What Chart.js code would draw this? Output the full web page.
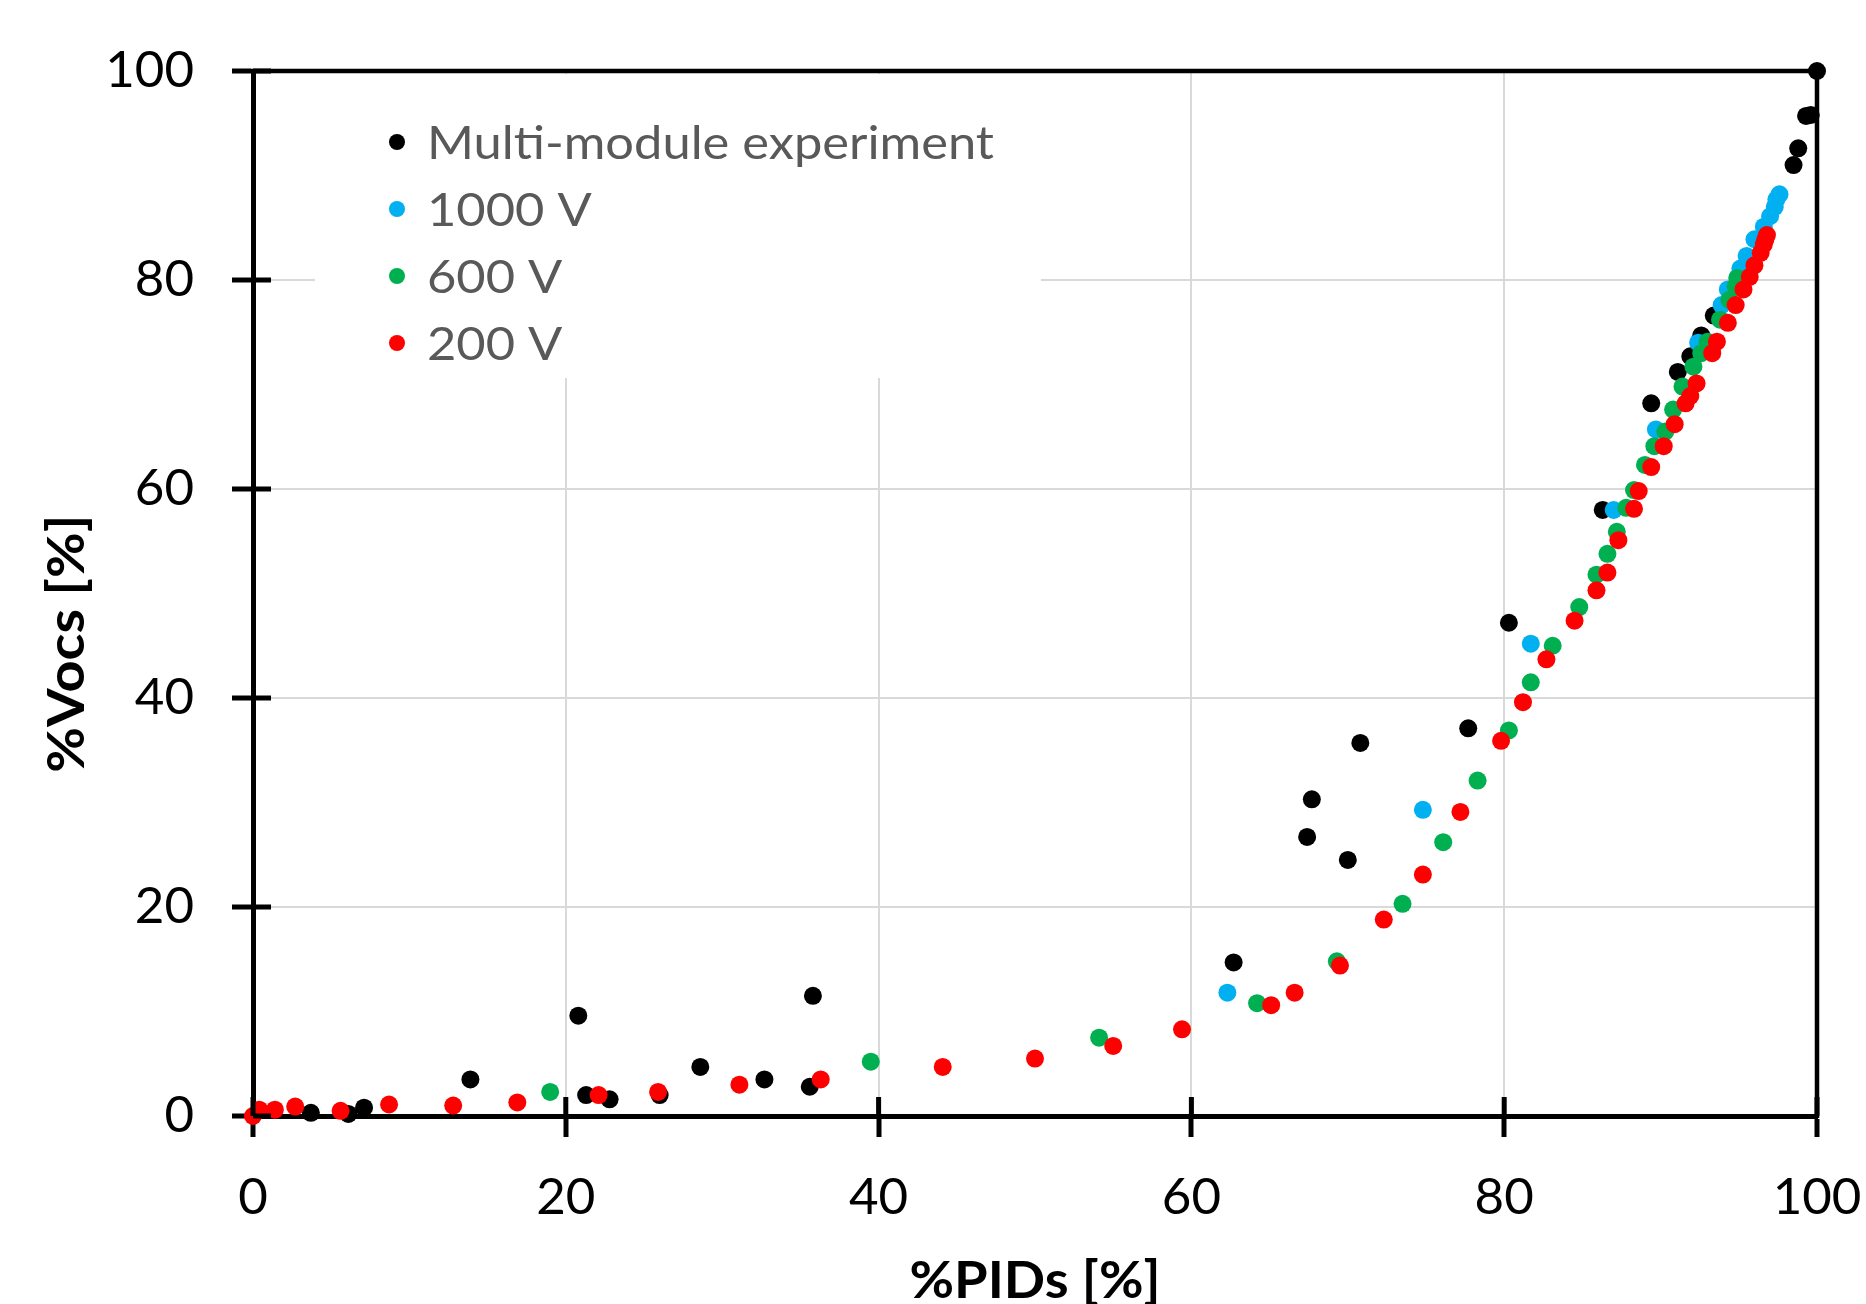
<!DOCTYPE html>
<html>
<head>
<meta charset="utf-8">
<script src="https://cdn.jsdelivr.net/npm/chart.js@4.4.1/dist/chart.umd.min.js"></script>
<style>
html,body{margin:0;padding:0;background:#fff;}
#wrap{width:1866px;height:1304px;position:relative;}
</style>
</head>
<body>
<div id="wrap"><canvas id="c" width="1866" height="1304"></canvas></div>
<script>
// ---- Data ----
const seriesLabels = ['Multi-module experiment', '1000 V', '600 V', '200 V'];
const seriesColors = ['#000000', '#00B0F0', '#00B050', '#FF0000'];

const multiX = [3.7, 6.1, 7.1, 13.9, 20.8, 21.3, 22.8, 26.0, 28.6, 32.7, 35.6, 35.8, 62.7, 67.4, 67.7, 70.0, 70.8, 77.7, 80.3, 86.3, 89.4, 91.1, 91.9, 92.6, 93.4, 98.5, 98.8, 99.3, 99.6, 100];
const multiY = [0.3, 0.2, 0.8, 3.5, 9.6, 2.0, 1.6, 2.0, 4.7, 3.5, 2.8, 11.5, 14.7, 26.7, 30.3, 24.5, 35.7, 37.1, 47.2, 58.0, 68.2, 71.2, 72.7, 74.7, 76.6, 91.0, 92.6, 95.7, 95.8, 100];

const v1000X = [62.3, 74.8, 81.7, 87.0, 89.7, 92.4, 93.9, 94.3, 95.1, 95.5, 96.0, 96.6, 97.0, 97.3, 97.4, 97.6];
const v1000Y = [11.8, 29.3, 45.2, 58.0, 65.7, 74.0, 77.6, 79.1, 81.1, 82.3, 83.9, 85.1, 86.1, 87.0, 87.7, 88.2];

const v600X = [19.0, 39.5, 54.1, 64.2, 69.3, 73.5, 76.1, 78.3, 80.3, 81.7, 83.1, 84.8, 85.9, 86.6, 87.2, 87.8, 88.3, 89.0, 89.6, 90.3, 90.8, 91.4, 92.1, 92.6, 93.0, 93.8, 94.4, 94.8, 94.9];
const v600Y = [2.3, 5.2, 7.5, 10.8, 14.8, 20.3, 26.2, 32.1, 36.9, 41.5, 45.0, 48.7, 51.8, 53.8, 55.9, 58.2, 59.9, 62.3, 64.1, 65.5, 67.6, 69.8, 71.7, 73.0, 74.1, 76.2, 78.1, 79.4, 80.2];

const v200X = [0, 0.4, 1.4, 2.7, 5.6, 8.7, 12.8, 16.9, 22.1, 25.9, 31.1, 36.3, 44.1, 50.0, 55.0, 59.4, 65.1, 66.6, 69.5, 72.3, 74.8, 77.2, 79.8, 81.2, 82.7, 84.5, 85.9, 86.6, 87.3, 88.3, 88.6, 89.4, 90.2, 90.9, 91.6, 91.9, 92.3, 93.3, 93.6, 94.3, 94.8, 95.3, 95.7, 96.0, 96.4, 96.6, 96.7, 96.8];
const v200Y = [0, 0.6, 0.6, 0.9, 0.5, 1.1, 1.0, 1.3, 2.0, 2.3, 3.0, 3.5, 4.7, 5.5, 6.7, 8.3, 10.6, 11.8, 14.4, 18.8, 23.1, 29.1, 35.9, 39.6, 43.7, 47.4, 50.3, 52.0, 55.1, 58.1, 59.8, 62.1, 64.1, 66.2, 68.2, 68.9, 70.1, 73.0, 74.1, 75.9, 77.6, 79.1, 80.3, 81.4, 82.6, 83.4, 83.9, 84.3];

const xTitle = '%PIDs [%]';
const yTitle = '%Vocs [%]';
const axisMin = 0, axisMax = 100, axisStep = 20;

// ---- Build datasets ----
function pts(xs, ys) { return xs.map((x, i) => ({x: x, y: ys[i]})); }
const seriesX = [multiX, v1000X, v600X, v200X];
const seriesY = [multiY, v1000Y, v600Y, v200Y];
const drawOrder = [3, 2, 1, 0]; // red on top, black at the bottom

const datasets = seriesLabels.map((lab, i) => ({
  label: lab,
  data: pts(seriesX[i], seriesY[i]),
  backgroundColor: seriesColors[i],
  borderColor: seriesColors[i],
  borderWidth: 0,
  pointRadius: 9,
  pointHoverRadius: 9,
  showLine: false,
  clip: false,
  order: drawOrder[i]
}));

const FONT = 'Lato';

// draw text stretched horizontally to a target width (reference text is slightly wide)
function stretchText(ctx, text, x, y, width) {
  const w = ctx.measureText(text).width;
  const k = width / w;
  ctx.save();
  ctx.translate(x, y);
  ctx.scale(k, 1);
  ctx.fillText(text, 0, 0);
  ctx.restore();
}

const decorPlugin = {
  id: 'decor',
  afterDraw(chart) {
    const ctx = chart.ctx;
    const a = chart.chartArea;
    const xs = chart.scales.x, ys = chart.scales.y;
    ctx.save();
    // legend background box (covers gridlines)
    ctx.fillStyle = '#ffffff';
    ctx.fillRect(315, a.top + 3, 726, 304);
    // top and right frame lines
    ctx.strokeStyle = '#000';
    ctx.lineWidth = 4.5;
    ctx.beginPath();
    ctx.moveTo(a.left - 2, a.top);
    ctx.lineTo(a.right, a.top);
    ctx.lineTo(a.right, a.bottom + 2);
    ctx.stroke();
    // inner halves of the crossing tick marks
    ctx.lineWidth = 5;
    ctx.beginPath();
    for (let v = axisMin; v <= axisMax; v += axisStep) {
      const px = xs.getPixelForValue(v);
      ctx.moveTo(px, a.bottom);
      ctx.lineTo(px, a.bottom - 19);
      const py = ys.getPixelForValue(v);
      ctx.moveTo(a.left, py);
      ctx.lineTo(a.left + 18, py);
    }
    ctx.stroke();
    // legend
    const legY0 = 142, legStep = 67, dotX = 397, textX = 427;
    ctx.font = '47px ' + FONT;
    ctx.textAlign = 'left';
    ctx.textBaseline = 'alphabetic';
    const kLeg = 567 / ctx.measureText(seriesLabels[0]).width;
    seriesLabels.forEach((lab, i) => {
      const y = legY0 + i * legStep;
      ctx.fillStyle = seriesColors[i];
      ctx.beginPath();
      ctx.arc(dotX, y, 8, 0, Math.PI * 2);
      ctx.fill();
      ctx.fillStyle = '#595959';
      ctx.save();
      ctx.translate(textX, y + 17);
      ctx.scale(kLeg, 1);
      ctx.fillText(lab, 0, 0);
      ctx.restore();
    });
    // axis titles
    ctx.fillStyle = '#000';
    ctx.font = 'bold 52px ' + FONT;
    ctx.textAlign = 'left';
    ctx.textBaseline = 'alphabetic';
    const xw = 251;
    stretchText(ctx, xTitle, (a.left + a.right) / 2 - xw / 2, 1298, xw);
    ctx.save();
    ctx.translate(84, a.top + (a.bottom - a.top) * 0.548);
    ctx.rotate(-Math.PI / 2);
    const yw = 258;
    stretchText(ctx, yTitle, -yw / 2, 0, yw);
    ctx.restore();
    ctx.restore();
  }
};

function axisOpts(extra) {
  return Object.assign({
    type: 'linear',
    min: axisMin,
    max: axisMax,
    ticks: {stepSize: axisStep, color: '#000', font: {family: FONT, size: 51}},
    grid: {color: '#d9d9d9', lineWidth: 2, tickColor: '#000', tickWidth: 5, tickLength: 21, drawTicks: true},
    border: {color: '#000', width: 5}
  }, extra);
}

const xAxis = axisOpts({position: 'bottom', afterFit(s) { s.height = 188; s.paddingLeft = 0; s.paddingRight = 0; }});
xAxis.ticks.padding = 30;
const yAxis = axisOpts({position: 'left', afterFit(s) { s.width = 253; s.paddingTop = 0; s.paddingBottom = 0; }});
yAxis.ticks.padding = 38;

new Chart(document.getElementById('c'), {
  type: 'scatter',
  data: {datasets: datasets},
  options: {
    responsive: false,
    animation: false,
    devicePixelRatio: 1,
    layout: {padding: {left: 0, right: 49, top: 71, bottom: 0}},
    plugins: {legend: {display: false}, tooltip: {enabled: false}},
    scales: {x: xAxis, y: yAxis}
  },
  plugins: [decorPlugin]
});
</script>
</body>
</html>
